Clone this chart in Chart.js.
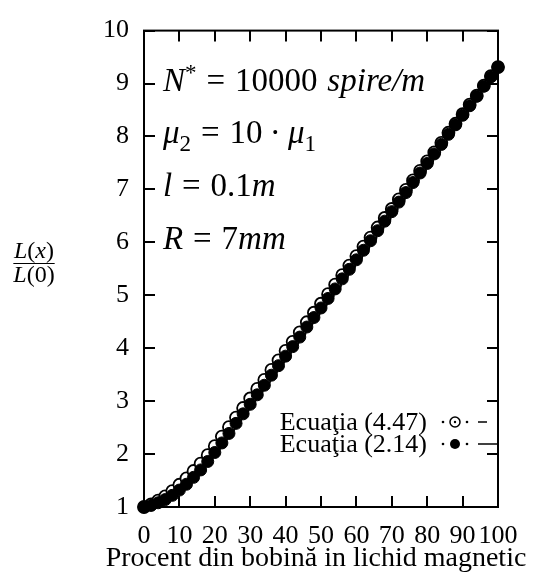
<!DOCTYPE html>
<html><head><meta charset="utf-8">
<script src="https://cdn.jsdelivr.net/npm/chart.js@4/dist/chart.umd.min.js"></script>
<style>html,body{margin:0;padding:0;background:#fff}</style>
</head><body>
<canvas id="c" width="537" height="584"></canvas>
<script>
// ---- data ----
const xPercent = [0,2,4,6,8,10,12,14,16,18,20,22,24,26,28,30,32,34,36,38,40,42,44,46,48,50,52,54,56,58,60,62,64,66,68,70,72,74,76,78,80,82,84,86,88,90,92,94,96,98,100];
const eq447 = [1.00,1.05,1.12,1.20,1.30,1.42,1.54,1.68,1.82,1.98,2.15,2.33,2.51,2.69,2.87,3.05,3.23,3.40,3.59,3.77,3.95,4.12,4.30,4.49,4.67,4.84,5.02,5.20,5.38,5.56,5.74,5.92,6.09,6.28,6.46,6.63,6.81,6.99,7.17,7.35,7.53,7.70,7.88,8.07,8.24,8.42,8.60,8.77,8.96,9.14,9.31];
const eq214 = [1.00,1.03,1.08,1.14,1.22,1.32,1.43,1.56,1.70,1.86,2.03,2.21,2.39,2.58,2.76,2.94,3.12,3.30,3.49,3.67,3.85,4.03,4.21,4.40,4.58,4.76,4.94,5.12,5.31,5.49,5.67,5.85,6.03,6.22,6.40,6.58,6.76,6.94,7.13,7.31,7.49,7.67,7.85,8.04,8.22,8.40,8.58,8.76,8.95,9.13,9.31];
const xTicks = [0,10,20,30,40,50,60,70,80,90,100];
const yTicks = [1,2,3,4,5,6,7,8,9,10];
const seriesLabels = ['Ecuaţia (4.47)', 'Ecuaţia (2.14)'];
const xTitle = 'Procent din bobină in lichid magnetic';
const yTitleNum = [{t:'L',s:'i'},{t:'(',s:'r'},{t:'x',s:'i'},{t:')',s:'r'}];
const yTitleDen = [{t:'L',s:'i'},{t:'(0)',s:'r'}];
const annotationValues = [9, 8, 7, 6];
const annotationLines = [
  [{t:'N',s:'i'},{t:'*',s:'sup'},{g:0.3},{t:'=',s:'r'},{g:0.3},{t:'10000',s:'r'},{g:0.3},{t:'spire/m',s:'i'}],
  [{t:'μ',s:'i'},{t:'2',s:'sub'},{g:0.3},{t:'=',s:'r'},{g:0.3},{t:'10',s:'r'},{g:0.22},{t:'·',s:'r'},{g:0.22},{t:'μ',s:'i'},{t:'1',s:'sub'}],
  [{t:'l',s:'i'},{g:0.3},{t:'=',s:'r'},{g:0.3},{t:'0.1',s:'r'},{t:'m',s:'i'}],
  [{t:'R',s:'i'},{g:0.3},{t:'=',s:'r'},{g:0.3},{t:'7',s:'r'},{t:'mm',s:'i'}]
];

const FONT = '"Liberation Serif", "DejaVu Serif", serif';

function segFont(st, size) {
  let fs = size, dy = 0, italic = false;
  if (st === 'i') italic = true;
  if (st === 'sub') { fs = size * 0.7; dy = size * 0.22; }
  if (st === 'sup') { fs = size * 0.7; dy = -size * 0.32; }
  return { font: (italic ? 'italic ' : '') + fs + 'px ' + FONT, dy };
}
function richWidth(ctx, segs, size) {
  let w = 0;
  for (const s of segs) {
    if (s.g !== undefined) { w += s.g * size; continue; }
    ctx.font = segFont(s.s, size).font; w += ctx.measureText(s.t).width;
  }
  return w;
}
function drawRich(ctx, x, y, segs, size) {
  let cx = x;
  for (const s of segs) {
    if (s.g !== undefined) { cx += s.g * size; continue; }
    const f = segFont(s.s, size);
    ctx.font = f.font;
    ctx.fillText(s.t, cx, y + f.dy);
    cx += ctx.measureText(s.t).width;
  }
}

const decor = {
  id: 'decor',
  afterDraw(chart) {
    const ctx = chart.ctx;
    const a = chart.chartArea;
    const xs = chart.scales.x, ys = chart.scales.y;
    ctx.save();
    ctx.strokeStyle = '#000';
    ctx.fillStyle = '#000';
    // frame
    ctx.lineWidth = 2;
    ctx.strokeRect(a.left, a.top, a.right - a.left, a.bottom - a.top);
    // inward ticks on all four sides
    const tl = 11;
    ctx.beginPath();
    for (const v of xTicks) {
      const px = Math.round(xs.getPixelForValue(v));
      ctx.moveTo(px, a.bottom); ctx.lineTo(px, a.bottom - tl);
      ctx.moveTo(px, a.top); ctx.lineTo(px, a.top + tl);
    }
    for (const v of yTicks) {
      const py = Math.round(ys.getPixelForValue(v));
      ctx.moveTo(a.left, py); ctx.lineTo(a.left + tl, py);
      ctx.moveTo(a.right, py); ctx.lineTo(a.right - tl, py);
    }
    ctx.stroke();
    // x axis title
    ctx.textAlign = 'center';
    ctx.textBaseline = 'middle';
    ctx.font = '28px ' + FONT;
    ctx.fillText(xTitle, 316, 559);
    // annotations
    ctx.textBaseline = 'alphabetic';
    ctx.textAlign = 'left';
    annotationValues.forEach((v, i) => {
      drawRich(ctx, a.left + 19, ys.getPixelForValue(v) + 7, annotationLines[i], 33);
    });
    // y title (fraction)
    const fs = 24, cx = 34, barY = 263;
    const wn = richWidth(ctx, yTitleNum, fs), wd = richWidth(ctx, yTitleDen, fs);
    drawRich(ctx, cx - wn / 2, barY - 5, yTitleNum, fs);
    drawRich(ctx, cx - wd / 2, barY + 19, yTitleDen, fs);
    ctx.lineWidth = 1.2;
    const bw = Math.max(wn, wd);
    ctx.beginPath(); ctx.moveTo(cx - bw / 2, barY + 0.5); ctx.lineTo(cx + bw / 2, barY + 0.5); ctx.stroke();
    // legend
    const rows = [422, 444];
    ctx.font = '26px ' + FONT;
    ctx.textAlign = 'right';
    ctx.textBaseline = 'middle';
    chart.data.datasets.slice().sort((p, q) => p.legendIndex - q.legendIndex).forEach((ds, i) => {
      const y = rows[i];
      ctx.fillStyle = '#000';
      ctx.fillText(ds.label, a.right - 71, y + 1);
      ctx.beginPath(); ctx.arc(a.right - 55, y, 1.3, 0, Math.PI * 2); ctx.fill();
      ctx.beginPath(); ctx.arc(a.right - 31, y, 1.3, 0, Math.PI * 2); ctx.fill();
      ctx.lineWidth = 1.5;
      ctx.beginPath(); ctx.moveTo(a.right - 20, y); ctx.lineTo(i === 0 ? a.right - 11 : a.right, y); ctx.stroke();
      ctx.beginPath(); ctx.arc(a.right - 43, y, 5, 0, Math.PI * 2);
      if (ds.pointBackgroundColor === '#000') { ctx.fill(); }
      else { ctx.fillStyle = '#fff'; ctx.fill(); ctx.stroke(); ctx.fillStyle = '#000';
             ctx.beginPath(); ctx.arc(a.right - 43, y, 1.2, 0, Math.PI * 2); ctx.fill(); }
    });
    ctx.restore();
  }
};

new Chart(document.getElementById('c'), {
  type: 'scatter',
  data: {
    datasets: [
      { label: seriesLabels[1], legendIndex: 1, order: 0,
        data: xPercent.map((x, i) => ({ x, y: eq214[i] })),
        showLine: false, pointRadius: 6, pointBackgroundColor: '#000', pointBorderColor: '#000', pointBorderWidth: 1, clip: false },
      { label: seriesLabels[0], legendIndex: 0, order: 1,
        data: xPercent.map((x, i) => ({ x, y: eq447[i] })),
        showLine: false, pointRadius: 6, pointBackgroundColor: '#fff', pointBorderColor: '#000', pointBorderWidth: 1.8, clip: false }
    ]
  },
  options: {
    responsive: false,
    animation: false,
    events: [],
    layout: { padding: { top: 22, right: 39, left: 0, bottom: 0 } },
    plugins: { legend: { display: false }, tooltip: { enabled: false } },
    scales: {
      x: {
        type: 'linear', min: 0, max: 100,
        afterBuildTicks: s => { s.ticks = xTicks.map(v => ({ value: v })); },
        afterFit: s => { s.height = 77; },
        grid: { display: false, drawTicks: false },
        border: { display: false },
        ticks: { color: '#000', font: { family: FONT, size: 26 }, padding: 14, maxRotation: 0, autoSkip: false },
        title: { display: false }
      },
      y: {
        type: 'linear', min: 1, max: 10,
        afterBuildTicks: s => { s.ticks = yTicks.map(v => ({ value: v })); },
        afterFit: s => { s.width = 144; },
        grid: { display: false, drawTicks: false },
        border: { display: false },
        ticks: { color: '#000', font: { family: FONT, size: 26 }, padding: 15 }
      }
    }
  },
  plugins: [decor]
});
</script>
</body></html>
